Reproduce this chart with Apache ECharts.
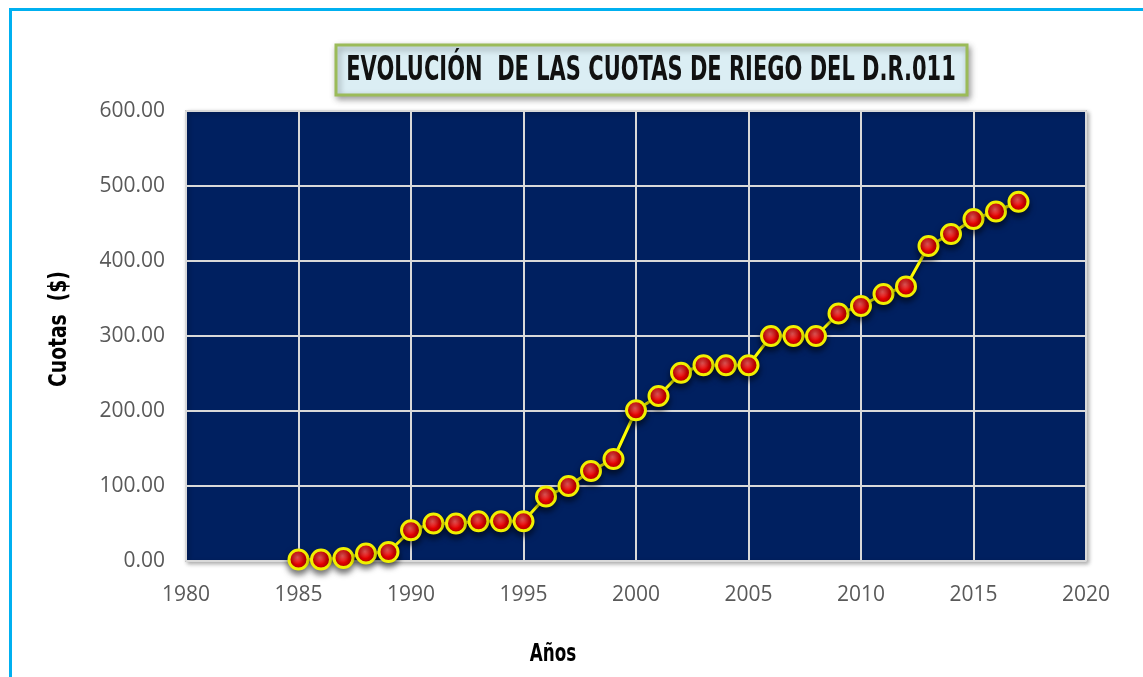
<!DOCTYPE html>
<html>
<head>
<meta charset="utf-8">
<script src="https://cdn.jsdelivr.net/npm/echarts@6/dist/echarts.min.js"></script>
<style>
  html, body { margin: 0; padding: 0; background: #fff; }
  #chart { width: 1143px; height: 677px; }
</style>
</head>
<body>
<div id="chart"></div>
<script>
// años y cuotas ($)
var years = [1985, 1986, 1987, 1988, 1989, 1990, 1991, 1992, 1993, 1994, 1995,
  1996, 1997, 1998, 1999, 2000, 2001, 2002, 2003, 2004, 2005, 2006, 2007, 2008,
  2009, 2010, 2011, 2012, 2013, 2014, 2015, 2016, 2017]
var cuotas = [2, 2, 4, 10, 12, 41, 50, 50, 53, 53, 53,
  86, 100, 120, 136, 201, 220, 251, 261, 261, 261, 300, 300, 300,
  330, 340, 356, 366, 420, 436, 456, 466, 479]
var titleText = 'EVOLUCIÓN  DE LAS CUOTAS DE RIEGO DEL D.R.011'
var xName = 'Años'
var yName = 'Cuotas  ($)'

var chart = echarts.init(document.getElementById('chart'))
var bold = "'DejaVu Sans', sans-serif"

var option = {
  backgroundColor: '#ffffff',
  graphic: [
    {
      type: 'rect',
      left: 8, top: 7,
      shape: { width: 1200, height: 700 },
      style: { fill: 'none', stroke: '#00b0f0', lineWidth: 3 },
      silent: true
    },
    {
      // recuadro del título
      type: 'rect',
      x: 336, y: 45,
      shape: { width: 631, height: 50 },
      style: {
        fill: '#dbeef4', stroke: '#9bbb59', lineWidth: 3,
        shadowColor: 'rgba(0,0,0,0.35)', shadowBlur: 6, shadowOffsetX: 2, shadowOffsetY: 3
      },
      z: 10
    },
    {
      type: 'text',
      x: 651, y: 71,
      scaleX: 0.636,
      style: {
        text: titleText,
        font: 'bold 33px ' + bold,
        fill: '#111',
        textAlign: 'center',
        textVerticalAlign: 'middle'
      },
      z: 11
    },
    {
      type: 'text',
      x: 553, y: 655,
      scaleX: 0.7,
      style: {
        text: xName,
        font: 'bold 24px ' + bold,
        fill: '#000',
        textAlign: 'center',
        textVerticalAlign: 'middle'
      }
    },
    {
      type: 'text',
      x: 60, y: 329,
      rotation: Math.PI / 2,
      scaleX: 0.78,
      style: {
        text: yName,
        font: 'bold 24px ' + bold,
        fill: '#000',
        textAlign: 'center',
        textVerticalAlign: 'middle'
      }
    }
  ],
  grid: {
    left: 186, right: 57, top: 111, bottom: 116,
    show: true,
    backgroundColor: '#002060',
    borderColor: '#c8c8c8',
    borderWidth: 2,
    shadowColor: 'rgba(0,0,0,0.3)',
    shadowBlur: 4,
    shadowOffsetX: 2,
    shadowOffsetY: 2
  },
  xAxis: {
    type: 'value',
    min: 1980, max: 2020, interval: 5,
    axisLine: { show: false },
    axisTick: { show: false },
    axisLabel: {
      color: '#595959', fontSize: 21, margin: 24, fontFamily: 'Open Sans',
      formatter: function (v) { return String(v) }
    },
    splitLine: { show: true, lineStyle: { color: '#d9d9d9', width: 2 } }
  },
  yAxis: {
    type: 'value',
    min: 0, max: 600, interval: 100,
    axisLine: { show: false },
    axisTick: { show: false },
    axisLabel: {
      color: '#595959', fontSize: 21, margin: 21, fontFamily: 'Open Sans',
      formatter: function (v) { return v.toFixed(2) }
    },
    splitLine: { show: true, lineStyle: { color: '#d9d9d9', width: 2 } }
  },
  series: [{
    type: 'line',
    data: years.map(function (y, i) { return [y, cuotas[i]] }),
    lineStyle: {
      color: '#ffff00', width: 3,
      shadowColor: 'rgba(0,0,0,0.5)', shadowBlur: 4, shadowOffsetY: 3
    },
    symbol: 'circle',
    symbolSize: 19,
    itemStyle: {
      color: {
        type: 'radial', x: 0.45, y: 0.4, r: 0.6,
        colorStops: [
          { offset: 0, color: '#ff6060' },
          { offset: 0.55, color: '#e80000' },
          { offset: 1, color: '#b00000' }
        ]
      },
      borderColor: '#f0f000',
      borderWidth: 3,
      shadowColor: 'rgba(0,0,0,0.55)',
      shadowBlur: 6,
      shadowOffsetY: 4
    },
    z: 5
  }],
  animation: false
}
chart.setOption(option)
</script>
</body>
</html>
